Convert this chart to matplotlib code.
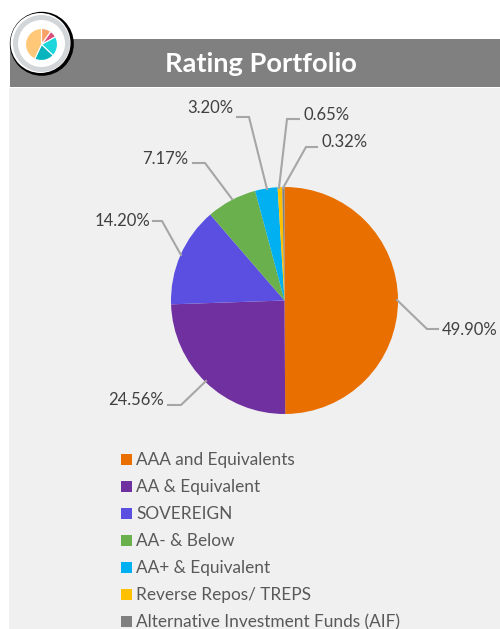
import matplotlib
matplotlib.use('Agg')
import matplotlib.pyplot as plt
from matplotlib.patches import Rectangle, Circle

# Rating data
categories = ['AAA and Equivalents', 'AA & Equivalent', 'SOVEREIGN', 'AA- & Below',
              'AA+ & Equivalent', 'Reverse Repos/ TREPS', 'Alternative Investment Funds (AIF)']
values = [49.90, 24.56, 14.20, 7.17, 3.20, 0.65, 0.32]
colors = ['#E96F00', '#7030A0', '#5A4FE0', '#6AB04C', '#00B0F0', '#FFC000', '#7F7F7F']

icon_values = [10, 7, 20, 20, 43]
icon_colors = ['#F9A268', '#D9507A', '#1CD6DC', '#06B4BE', '#FFC878']

# label text position (px, image coords) and leader lines
label_pos = [(442, 330), (108, 400), (95, 221), (142, 159), (187, 108), (304, 115), (322, 142)]
leaders = [[(397, 300), (427, 329), (438, 329)],
           [(206, 381), (181, 405), (168, 405)],
           [(181, 255), (162, 221), (153, 221)],
           [(232, 199), (205, 163), (193, 163)],
           [(267, 189), (249, 117), (237, 117)],
           [(279, 188), (287, 119), (299, 119)],
           [(283, 188), (306, 147), (317, 147)]]

W, H = 500, 629
plt.rcParams['font.family'] = ['Lato', 'DejaVu Sans']


def fy(y):
    return H - y


fig = plt.figure(figsize=(W / 100, H / 100), dpi=100)
ax = fig.add_axes([0, 0, 1, 1])

# backgrounds
ax.add_patch(Rectangle((9, 0), W - 9, H - 88, color='#F0F0F0', lw=0, zorder=0))
ax.add_patch(Rectangle((10, fy(87)), W - 10, 48, color='#808080', lw=0, zorder=0))
ax.text(260.5, fy(64), 'Rating Portfolio', color='white', fontsize=19.6, fontweight='bold',
        ha='center', va='center')

# main pie
ax.pie(values, colors=colors, startangle=90, counterclock=False,
       center=(284.5, fy(300.5)), radius=113.5, frame=True,
       wedgeprops={'linewidth': 0})

for pts in leaders:
    ax.plot([p[0] for p in pts], [fy(p[1]) for p in pts], color='#A6A6A6', lw=1.5,
            solid_joinstyle='miter', zorder=3)

for val, pos in zip(values, label_pos):
    ax.text(pos[0], fy(pos[1]), f'{val:.2f}%', color='#404040', fontsize=12,
            ha='left', va='center', zorder=4)

# legend
for i, (name, col) in enumerate(zip(categories, colors)):
    y = 459 + 27 * i
    ax.add_patch(Rectangle((121, fy(y + 5.5)), 11, 11, color=col, lw=0))
    ax.text(136, fy(y + 1), name, color='#595959', fontsize=12.4, ha='left', va='center')

# icon top left
ax.add_patch(Circle((41.8, fy(43.8)), 32, color='black', lw=0, zorder=5))
ax.add_patch(Circle((40.5, fy(43)), 30, color='white', lw=0, zorder=5))
ax.add_patch(Circle((41.5, fy(43.5)), 28.5, color='#D3D6D9', lw=0, zorder=5))
ax.add_patch(Circle((41.5, fy(43.5)), 23.5, color='white', lw=0, zorder=5))
ax.pie(icon_values, colors=icon_colors, startangle=90, counterclock=False,
       center=(41.5, fy(44.5)), radius=16, frame=True,
       wedgeprops={'linewidth': 0.8, 'edgecolor': 'white', 'zorder': 6})

ax.set_xlim(0, W)
ax.set_ylim(0, H)
ax.set_aspect('equal')
ax.axis('off')

fig.savefig('out.png', dpi=100, facecolor='white')
